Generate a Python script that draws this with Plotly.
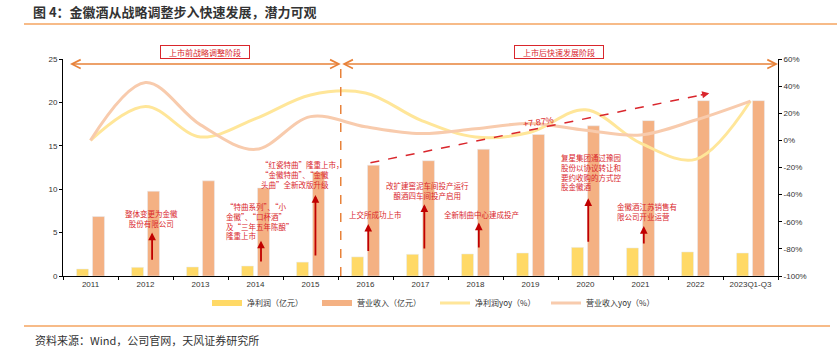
import plotly.graph_objects as go

categories = ["2011", "2012", "2013", "2014", "2015", "2016", "2017", "2018",
              "2019", "2020", "2021", "2022", "2023Q1-Q3"]
net_profit = [0.81, 1.0, 1.04, 1.15, 1.6, 2.2, 2.5, 2.54, 2.65, 3.3, 3.23, 2.77, 2.65]
revenue = [6.85, 9.77, 10.96, 10.15, 12.0, 12.77, 13.28, 14.6, 16.3, 17.3, 17.9, 20.2, 20.2]
net_profit_yoy = [0, 25, 2.5, 16, 33.5, 35, 15, 2.5, 6, 22.5, -2, -14, 29]
revenue_yoy = [0, 42.6, 11.4, -6.6, 17.5, 10, 5, 8.5, 12.5, 7.5, 4, 15, 29]
left_ticks = [0, 5, 10, 15, 20, 25]
right_ticks = [-100, -80, -60, -40, -20, 0, 20, 40, 60]
right_labels = [f"{v}%" for v in right_ticks]

C_NP = "#FFD966"
C_REV = "#F4B183"
C_NPY = "#FFE699"
C_REVY = "#F8CBAD"
RED = "#D9262C"
DARKRED = "#C00000"
ORANGE = "#E8823A"
FONT = "Liberation Sans, Noto Sans CJK SC, sans-serif"
CJK = "Noto Sans CJK SC, sans-serif"

W, H = 837, 354
L, R, T, B = 63, 59, 59, 78
pw, ph = W - L - R, H - T - B

def px(x):
    return (x - L) / pw

def py(y):
    return (H - B - y) / ph

fig = go.Figure()
fig.add_bar(x=categories, y=net_profit, marker_color=C_NP, name="净利润（亿元）", showlegend=False)
fig.add_bar(x=categories, y=revenue, marker_color=C_REV, name="营业收入（亿元）", showlegend=False)
fig.add_scatter(x=categories, y=net_profit_yoy, yaxis="y2", mode="lines",
                line=dict(color=C_NPY, width=3, shape="spline", smoothing=1),
                name="净利润yoy（%）", showlegend=False)
fig.add_scatter(x=categories, y=revenue_yoy, yaxis="y2", mode="lines",
                line=dict(color=C_REVY, width=3, shape="spline", smoothing=1),
                name="营业收入yoy（%）", showlegend=False)
# legend entries, one legend each so they can be placed like the reference
legend_items = [("净利润（亿元）", C_NP, 6, 212), ("营业收入（亿元）", C_REV, 6, 322),
                ("净利润yoy（%）", C_NPY, 3, 440), ("营业收入yoy（%）", C_REVY, 3, 551)]
legend_layout = {}
for i, (nm, col, w, xpos) in enumerate(legend_items):
    lg = "legend" if i == 0 else f"legend{i + 1}"
    fig.add_scatter(x=[None], y=[None], mode="lines", line=dict(color=col, width=w), name=nm,
                    legend=lg)
    legend_layout[lg] = dict(orientation="h", x=px(xpos - 5), xanchor="left", y=py(303),
                             yanchor="middle", font=dict(size=8, color="#333333", family=CJK),
                             itemwidth=30, bgcolor="rgba(0,0,0,0)")

ann = []
# stage boxes
for txt, cx in [("上市前战略调整阶段", 205), ("上市后快速发展阶段", 558.5)]:
    ann.append(dict(text=txt, xref="paper", yref="paper", x=px(cx), y=py(52.3),
                    showarrow=False, font=dict(size=8, color=RED, family=CJK),
                    bordercolor=RED, borderwidth=1, borderpad=1, bgcolor="white",
                    width=86, height=10, xanchor="center", yanchor="middle"))
# orange double arrows at top
for x0, x1 in [(-0.4, 4.55), (4.55, 12.5)]:
    ann.append(dict(x=x1, y=24.42, ax=x0, ay=24.42, xref="x", yref="y", axref="x", ayref="y",
                    showarrow=True, arrowhead=5, startarrowhead=5, arrowside="end+start",
                    arrowwidth=1.5, arrowsize=1.15, startarrowsize=1.15, arrowcolor=ORANGE, text=""))
# red arrows
arrows = [(1.12, 1.7, 5.0), (3.1, 1.5, 4.07), (4.09, 2.2, 9.33), (5.05, 2.7, 6.0),
          (6.07, 3.0, 8.26), (7.06, 3.1, 6.15), (9.05, 3.77, 8.95), (10.06, 3.57, 5.76)]
for x, t, h in arrows:
    ann.append(dict(x=x, y=h, ax=x, ay=t, xref="x", yref="y", axref="x", ayref="y",
                    showarrow=True, arrowhead=2, arrowwidth=1.8, arrowsize=0.85,
                    arrowcolor=DARKRED, text=""))
texts = [
    ("整体变更为金徽<br>股份有限公司", 1.1, 6.68, "center"),
    ("“特曲系列”、“小<br>金徽”、“口杯酒”<br>及“三年五年陈酿”<br>隆重上市", 2.436, 6.28, "left"),
    ("“红瓷特曲”隆重上市，<br>“金徽特曲”、“金徽<br>头曲”全新改版升级", 3.055, 11.75, "left"),
    ("上交所成功上市", 5.18, 7.03, "center"),
    ("改扩建窖泥车间投产运行<br>酿酒四车间投产启用", 6.13, 9.9, "center"),
    ("全新制曲中心建成投产", 7.11, 7.1, "center"),
    ("复星集团通过豫园<br>股份以协议转让和<br>要约收购的方式控<br>股金徽酒", 8.51, 11.98, "left"),
    ("金徽酒江苏销售有<br>限公司开业运营", 9.53, 7.41, "left"),
]
for txt, x, y, al in texts:
    ann.append(dict(text=txt, x=x, y=y, xref="x", yref="y", showarrow=False,
                    xanchor=al, yanchor="middle", align=al,
                    font=dict(size=7.5, color=RED, family=CJK)))
# trend arrow head + label
ann.append(dict(x=11.25, y=21.05, ax=-10, ay=2, xref="x", yref="y", showarrow=True,
                arrowhead=2, arrowwidth=1.5, arrowsize=0.95, arrowcolor=RED, text=""))
ann.append(dict(text="+7.87%", x=8.15, y=17.74, xref="x", yref="y", showarrow=False,
                textangle=-8, font=dict(size=9, color=RED, family=FONT)))
# source
ann.append(dict(text="资料来源：Wind，公司官网，天风证券研究所", xref="paper", yref="paper",
                x=px(33), y=py(340), xanchor="left", yanchor="middle", showarrow=False,
                font=dict(size=11, color="#333333", family=CJK)))

shapes = [
    dict(type="line", xref="x", yref="y", x0=4.55, x1=4.55, y0=0, y1=24.42,
         line=dict(color=ORANGE, width=1.5, dash="dash")),
    dict(type="line", xref="x", yref="y", x0=5.09, y0=13.05, x1=11.1, y1=20.85,
         line=dict(color=RED, width=1.5, dash="dash")),
    dict(type="line", xref="paper", yref="paper", x0=px(24), x1=px(837), y0=py(24), y1=py(24),
         line=dict(color="#F4A460", width=1.5)),
    dict(type="line", xref="paper", yref="paper", x0=px(24), x1=px(830), y0=py(326), y1=py(326),
         line=dict(color="#F4A460", width=1.5)),
]

fig.update_layout(
    width=W, height=H, margin=dict(l=L, r=R, t=T, b=B),
    paper_bgcolor="white", plot_bgcolor="white",
    font=dict(family=FONT, size=8, color="#333333"),
    barmode="group", bargap=0.42, bargroupgap=0.25,
    title=dict(text="<b>图 4：金徽酒从战略调整步入快速发展，潜力可观</b>", x=33 / W, y=1 - 12 / H,
               xanchor="left", yanchor="middle", xref="container", yref="container",
               font=dict(size=13, color="#333333", family=CJK)),
    xaxis=dict(type="category", categoryorder="array", categoryarray=categories,
               showline=True, linecolor="black", linewidth=1, ticks="outside",
               tickson="boundaries", ticklen=3, tickcolor="black", showgrid=False,
               tickfont=dict(size=8, color="#333333"), range=[-0.5, 12.5]),
    yaxis=dict(range=[0, 25], tickvals=left_ticks, showline=True, linecolor="black", linewidth=1,
               ticks="outside", ticklen=3, tickcolor="black", showgrid=False, zeroline=False,
               tickfont=dict(size=8, color="#333333")),
    yaxis2=dict(range=[-100, 60], tickvals=right_ticks, ticktext=right_labels,
                overlaying="y", side="right",
                showline=True, linecolor="black", linewidth=1, ticks="outside", ticklen=3,
                tickcolor="black", showgrid=False, zeroline=False,
                tickfont=dict(size=8, color="#333333")),
    annotations=ann, shapes=shapes,
    **legend_layout,
)

fig.write_html("out.html")
